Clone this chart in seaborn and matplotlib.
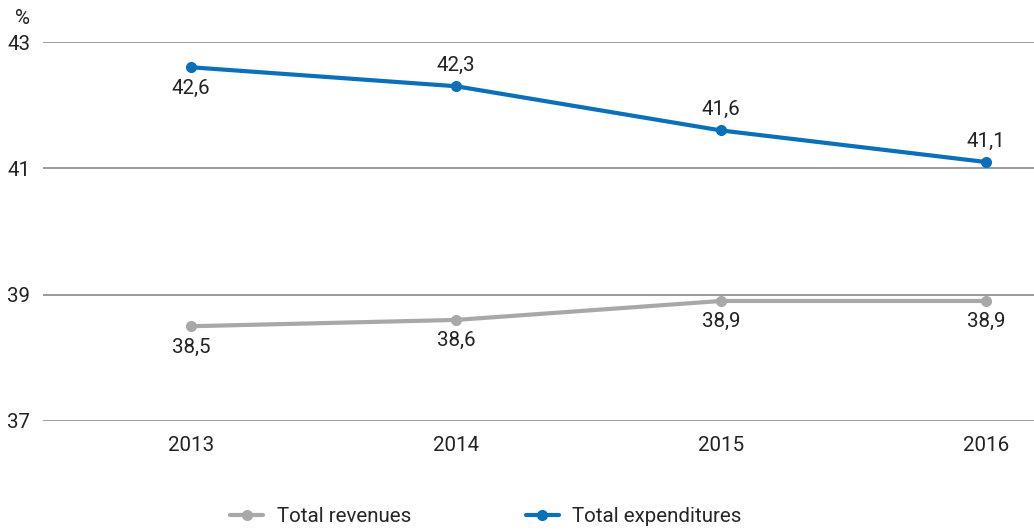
import matplotlib
matplotlib.use("Agg")
import matplotlib.pyplot as plt
import seaborn as sns
import pandas as pd

# Chart data
years = ["2013", "2014", "2015", "2016"]
revenues = [38.5, 38.6, 38.9, 38.9]
expenditures = [42.6, 42.3, 41.6, 41.1]
# label placement for each point (True = above the marker)
exp_above = [False, True, True, True]
rev_above = [False, False, False, False]

sns.set_style("white")
plt.rcParams["font.family"] = ["Roboto", "DejaVu Sans"]

grey = "#a7a8aa"
blue = "#0a70ba"
fs = 14.8

df = pd.DataFrame({
    "Year": years * 2,
    "Value": revenues + expenditures,
    "Series": ["Total revenues"] * 4 + ["Total expenditures"] * 4,
})

fig = plt.figure(figsize=(10.34, 5.32), dpi=100)
ax = fig.add_axes([43 / 1034, 111 / 532, 1 - 43 / 1034, 379 / 532])

sns.lineplot(data=df, x="Year", y="Value", hue="Series",
             palette={"Total revenues": grey, "Total expenditures": blue},
             marker="o", markersize=8, markeredgewidth=0, linewidth=3,
             sort=False, ax=ax)

# Value labels with comma decimals
for vals, above in [(revenues, rev_above), (expenditures, exp_above)]:
    for i, (v, up) in enumerate(zip(vals, above)):
        ax.annotate(f"{v:.1f}".replace(".", ","), (i, v),
                    xytext=(0, 15 if up else -15), textcoords="offset points",
                    ha="center", va="center",
                    fontsize=fs, color="#222222")

ax.set_ylim(37, 43)
ax.set_yticks([37, 39, 41, 43])
ax.set_xlim(-0.558, 3.181)
ax.yaxis.grid(True, color="#8a8a8a", linewidth=1.2)
ax.xaxis.grid(False)
for s in ax.spines.values():
    s.set_visible(False)
ax.tick_params(axis="both", length=0, labelsize=fs, colors="#222222")
ax.tick_params(axis="y", pad=9)
ax.tick_params(axis="x", pad=11)
ax.set_xlabel("")
ax.set_ylabel("")
ax.text(22 / 1034, 1 - 18 / 532, "%", transform=fig.transFigure,
        ha="center", va="center", fontsize=fs, color="#222222")

ax.legend(loc="center", bbox_to_anchor=(0.47, 15 / 532), bbox_transform=fig.transFigure,
          ncol=2, frameon=False, fontsize=fs, handlelength=1.6,
          columnspacing=5.6, handletextpad=0.65)

fig.savefig("out.png", dpi=100)
